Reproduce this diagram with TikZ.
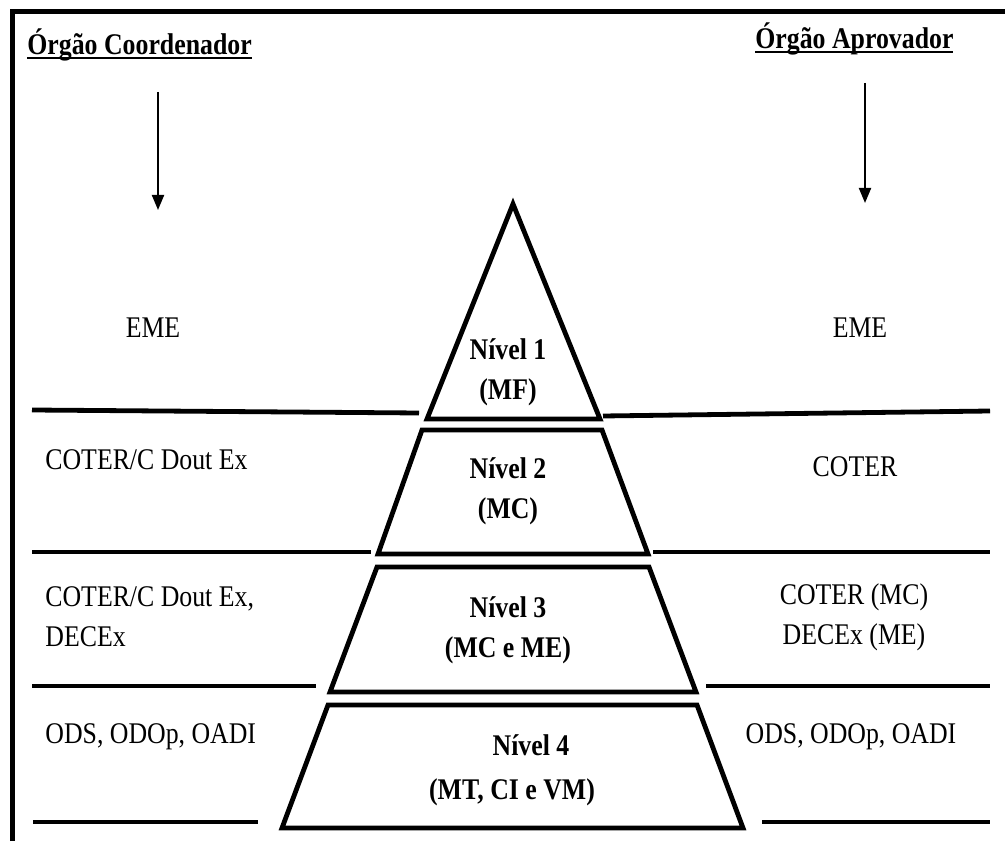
\documentclass[tikz,border=0pt]{standalone}
\usepackage{fontspec}
\setmainfont{Liberation Serif}[FakeStretch=0.86]
\usepackage{tikz}
\usetikzlibrary{arrows.meta,positioning}
\newcommand{\headrule}[1]{\setbox0\hbox{#1}\rlap{\rule[-2.2pt]{\wd0}{1.4pt}}\box0}

\begin{document}
\begin{tikzpicture}[x=0.5pt,y=0.5pt,font=\fontsize{15}{20}\selectfont,
  sep/.style={line width=2.4pt},
  tier/.style={line width=2.4pt,line join=miter},
  lbl/.style={inner sep=0pt,align=center},
  lvl/.style={inner sep=0pt,align=center,font=\fontsize{15}{20}\selectfont\bfseries},
  head/.style={inner sep=0pt,anchor=base west,font=\fontsize{15}{20}\selectfont\bfseries},
  down/.style={line width=1pt,-{Triangle[length=7.5pt,width=6pt]}}]
  \useasboundingbox (0,0) rectangle (1005,841);
  \draw[line width=2.5pt] (12,0) -- (12,829) -- (1005,829);

  % headings and arrows
  \node[head] (coord) at (27,786) {\headrule{Órgão Coordenador}};
  \node[head] (aprov) at (755,792) {\headrule{Órgão Aprovador}};
  \coordinate (coordA) at (158,749);
  \coordinate (coordB) at (158,631);
  \coordinate (aprovA) at (865,758);
  \coordinate (aprovB) at (865,638);
  \draw[down] (coordA) -- (coordB);
  \draw[down] (aprovA) -- (aprovB);

  % separators
  \draw[sep] (32,431) -- (419,428);
  \draw[sep] (603,425) -- (990,430);
  \draw[sep] (32,289) -- (371,289);
  \draw[sep] (653,289) -- (990,289);
  \draw[sep] (32,155) -- (316,155);
  \draw[sep] (706,155) -- (990,155);
  \draw[sep] (33,19) -- (258,19);
  \draw[sep] (762,19) -- (990,19);

  % pyramid
  \draw[tier] (513,637) -- (600,422) -- (427,422) -- cycle;
  \draw[tier] (422,411) -- (602,411) -- (648,287) -- (378,287) -- cycle;
  \draw[tier] (377,274) -- (649,274) -- (696,149) -- (330,149) -- cycle;
  \draw[tier] (328,136) -- (697,136) -- (743,13) -- (282,13) -- cycle;
  \node[lvl] (lvlA) at (508,469) {Nível 1\\(MF)};
  \node[lvl] (lvlB) at (508,350) {Nível 2\\(MC)};
  \node[lvl] (lvlC) at (508,211) {Nível 3\\(MC e ME)};
  \node[lvl] (lvlD) at (512,71) {\hspace*{19pt}Nível 4\\[2pt](MT, CI e VM)};

  % coordinating bodies
  \node[lbl] (emeL) at (153,513) {EME};
  \node[lbl,anchor=west] (cdL) at (45,381) {COTER/C Dout Ex};
  \node[lbl,anchor=west,align=left] (ddL) at (45,224) {COTER/C Dout Ex,\\DECEx};
  \node[lbl,anchor=west] (odL) at (45,104) {ODS, ODOp, OADI};

  % approving bodies
  \node[lbl] (emeR) at (860,513) {EME};
  \node[lbl] (cdR) at (855,374) {COTER};
  \node[lbl] (ddR) at (854,224) {COTER (MC)\\DECEx (ME)};
  \node[lbl] (odR) at (851,104) {ODS, ODOp, OADI};
\end{tikzpicture}
\end{document}
